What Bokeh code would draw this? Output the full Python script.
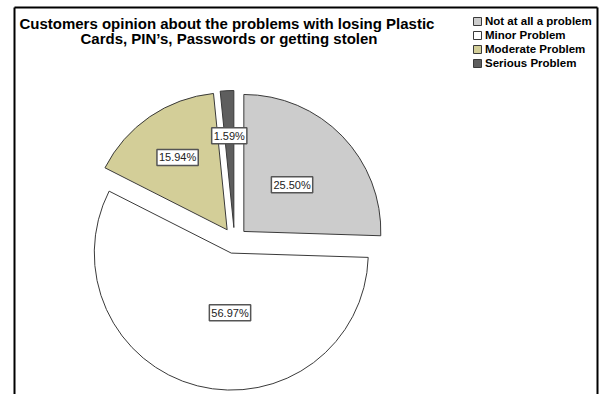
import math
from bokeh.plotting import figure
from bokeh.models import Range1d, Legend, LegendItem, ColumnDataSource
from bokeh.core.properties import value
from bokeh.embed import file_html
from bokeh.resources import INLINE

# Survey responses (share of customers, %)
categories = ["Not at all a problem", "Minor Problem", "Moderate Problem", "Serious Problem"]
shares = [25.50, 56.97, 15.94, 1.59]
slice_colors = ["#CCCCCC", "#FFFFFF", "#D3CE98", "#5E5E5E"]
title_lines = ["Customers opinion about the problems with losing  Plastic",
               "Cards, PIN\u2019s, Passwords or getting stolen"]

W, H = 599, 394
FONT = "Liberation Sans"

# pie layout (canvas pixels, y measured upward)
CX, CY = 234.0, H - 240.0
RADIUS = 137.0
EXPLODE = 13.0
LABEL_FRAC = [0.49, 0.45, 0.64, 0.67]   # label distance from slice tip, as a fraction of radius
LABEL_SHIFT = [0.0, 14.0, 0.0, 0.0]     # sideways nudge of labels, px

p = figure(width=W, height=H, output_backend="svg", toolbar_location=None, title=None,
           x_range=Range1d(0, W), y_range=Range1d(0, H),
           min_border=0, outline_line_color=None, background_fill_color="white")
p.axis.visible = False
p.grid.visible = False

# frame around the chart area
p.segment(x0=[14, 14, 597], y0=[-10, H - 7, -10], x1=[14, 597, 597], y1=[H - 7, H - 7, H - 7],
          line_color="black", line_width=2)

total = sum(shares)
xs, ys, starts, ends, lx, ly, texts = [], [], [], [], [], [], []
acc = 0.0
for i, s in enumerate(shares):
    a0 = acc / total * 360.0            # clockwise from 12 o'clock
    a1 = (acc + s) / total * 360.0
    mid = math.radians((a0 + a1) / 2.0)
    dx, dy = math.sin(mid), math.cos(mid)
    tx, ty = CX + EXPLODE * dx, CY + EXPLODE * dy
    xs.append(tx)
    ys.append(ty)
    starts.append(math.radians(90.0 - a0))
    ends.append(math.radians(90.0 - a1))
    lx.append(tx + LABEL_FRAC[i] * RADIUS * dx + LABEL_SHIFT[i])
    ly.append(ty + LABEL_FRAC[i] * RADIUS * dy)
    texts.append(f"{s:.2f}%")
    acc += s

src = ColumnDataSource(dict(x=xs, y=ys, start=starts, end=ends, color=slice_colors,
                            cat=categories))
wedges = p.wedge(x="x", y="y", radius=RADIUS, start_angle="start", end_angle="end",
                 direction="clock", fill_color="color", line_color="#3A3A3A",
                 line_width=1, source=src)

lab = ColumnDataSource(dict(x=lx, y=ly, text=texts))
p.text(x="x", y="y", text="text", source=lab, text_align="center",
       text_baseline="middle", text_font=value(FONT), text_font_size="11px",
       text_color="#222222", background_fill_color="white",
       border_line_color="#555555", border_line_width=1.5, padding=2)

# chart title
p.text(x=[228.5], y=[H - 30.5], text=["\n".join(title_lines)], text_align="center",
       text_baseline="middle", text_font=value(FONT), text_font_size="15px",
       text_font_style="bold", text_color="black", text_line_height=0.92)

legend = Legend(items=[LegendItem(label=c, renderers=[wedges], index=i)
                       for i, c in enumerate(categories)],
                location=(472, H - 70), orientation="vertical",
                glyph_width=10, glyph_height=10, label_standoff=3, spacing=0,
                padding=0, margin=0, border_line_color=None,
                background_fill_alpha=0, label_text_font=FONT,
                label_text_font_size="11.5px", label_text_font_style="bold",
                label_text_color="black",
                label_height=14, label_text_baseline="middle")
p.add_layout(legend)

open("out.html", "w").write(file_html(p, INLINE))
